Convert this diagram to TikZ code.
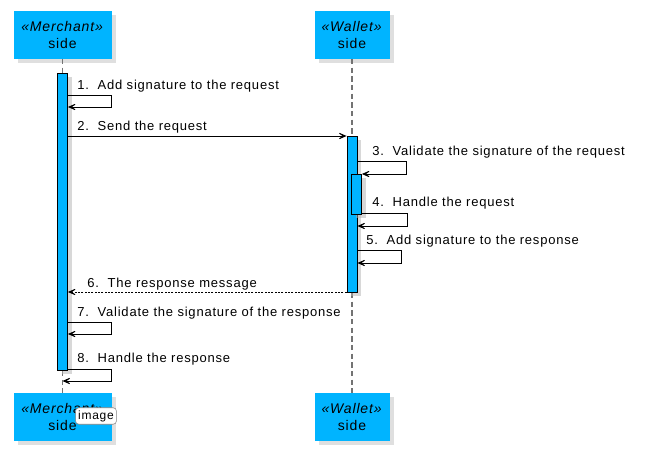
\documentclass[tikz,border=0pt]{standalone}
\usepackage{fontspec}
\setmainfont[LetterSpace=6]{Liberation Sans}
\usetikzlibrary{arrows.meta,shadows}
\definecolor{partblue}{HTML}{00B4FF}

\begin{document}
\begin{tikzpicture}[x=0.75pt, y=-0.75pt,
        part/.style={fill=partblue, minimum width=#1, minimum height=35.5pt, inner sep=0pt, align=center,
            font=\fontsize{10.5}{12.5}\selectfont,
            drop shadow={shadow xshift=3pt, shadow yshift=-3pt, fill=black!25}},
        bar/.style={draw, fill=partblue, line width=.6pt, minimum width=7.5pt, minimum height=#1, inner sep=0pt,
            drop shadow={shadow xshift=3pt, shadow yshift=-3pt, fill=black!30}},
        lifeline/.style={draw=black!55, line width=1pt, dash pattern=on 4pt off 2.5pt},
        msg/.style={-{Stealth[length=8pt, width=7pt, inset=5pt]}, line width=.6pt},
        lbl/.style={anchor=base west, inner sep=0pt, font=\fontsize{9.75}{11}\selectfont}
    ]
    \useasboundingbox (0,0) rectangle (651,467);

    % participants
    \node[part=73.5pt] (mhead) at (62.5,35) {\textit{«Merchant»}\\side};
    \node[part=56.25pt] (whead) at (352,35) {\textit{«Wallet»}\\side};
    \node[part=73.5pt] (mfoot) at (62.5,417) {\textit{«Merchant»}\\side};
    \node[part=56.25pt] (wfoot) at (352,417) {\textit{«Wallet»}\\side};

    \draw[lifeline] (mhead) -- (mfoot);
    \draw[lifeline] (whead) -- (wfoot);

    % activations
    \node[bar=222.75pt] (mbar) at (62.5,221.5) {};
    \node[bar=117pt] (wbar) at (352,214) {};
    \node[bar=30pt] (hbar) at (356.5,194) {};

    % message rows
    \coordinate (r1) at (0,95);
    \coordinate (r2) at (0,136);
    \coordinate (r3) at (0,161);
    \coordinate (r4) at (0,213);
    \coordinate (r5) at (0,250);
    \coordinate (r6) at (0,292);
    \coordinate (r7) at (0,322);
    \coordinate (r8) at (0,369);

    \node[lbl] (l1) at (77,90) {1.\ \ Add signature to the request};
    \draw[msg] (mbar.east |- r1) -- ++(43,0) -- ++(0,12) -- ++(-43,0);

    \node[lbl] (l2) at (77,131) {2.\ \ Send the request};
    \draw[msg] (mbar.east |- r2) -- (wbar.west |- r2);

    \node[lbl] (l3) at (372,156) {3.\ \ Validate the signature of the request};
    \draw[msg] (wbar.east |- r3) -- ++(49,0) -- ++(0,13) -- (hbar.east |- 0,174);

    \node[lbl] (l4) at (372,207) {4.\ \ Handle the request};
    \draw[msg] (hbar.east |- r4) -- ++(45,0) -- ++(0,13) -- (wbar.east |- 0,226);

    \node[lbl] (l5) at (366,245) {5.\ \ Add signature to the response};
    \draw[msg] (wbar.east |- r5) -- ++(44,0) -- ++(0,13) -- ++(-44,0);

    \node[lbl] (l6) at (87,287) {6.\ \ The response message};
    \draw[msg, dash pattern=on 1.5pt off 1pt] (wbar.west |- r6) -- (mbar.east |- r6);

    \node[lbl] (l7) at (77,316) {7.\ \ Validate the signature of the response};
    \draw[msg] (mbar.east |- r7) -- ++(43,0) -- ++(0,12) -- ++(-43,0);

    \node[lbl] (l8) at (77,363) {8.\ \ Handle the response};
    \draw[msg] (mbar.east |- r8) -- ++(43,0) -- ++(0,12) -- (mbar.center |- 0,381);

    % tooltip
    \node[draw=gray, fill=white, rounded corners=2.5pt, inner sep=2pt, font=\fontsize{9}{10}\selectfont] (tip) at (96,416) {image};
\end{tikzpicture}
\end{document}
